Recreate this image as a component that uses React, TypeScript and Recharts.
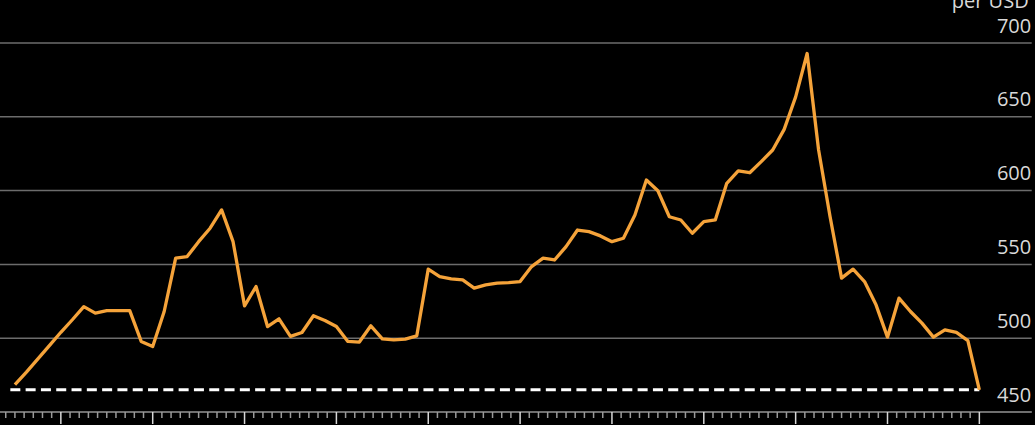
import {
  LineChart,
  Line,
  XAxis,
  YAxis,
  CartesianGrid,
  ReferenceLine
} from "recharts";

// exchange rate per USD, evenly spaced observations
const rateValues = [
  468.5, 477, 486, 495, 504, 512.5, 521.4, 517, 518.7, 518.7,
  518.7, 497.8, 494.4, 518.1, 554.2, 555.3, 565.4, 574.5, 586.9, 565.4,
  521.9, 535, 507.9, 513.1, 501.2, 503.9, 515.2, 512, 507.9, 497.8,
  497.4, 508.4, 499.6, 498.9, 499.4, 501.6, 546.8, 541.7, 540.2, 539.5,
  533.9, 536.1, 537.3, 537.7, 538.4, 548.5, 554.2, 553, 562, 573.3,
  572.2, 569.3, 565.4, 567.7, 583.5, 607.2, 599.9, 582.3, 580.1, 571.1,
  579, 580.1, 604.9, 613.3, 612.1, 619.6, 627.5, 641.5, 663.5, 692.9,
  627.5, 582.3, 540.7, 546.8, 538.4, 522.6, 500.7, 527.1, 518.1, 510.2,
  500.7, 505.7, 503.9, 498.4, 465
];

const yTicks = [450, 500, 550, 600, 650, 700];
const unitLabel = "per USD";
const currentLevel = 465;

// major ticks every 8 observations, 10 minor steps between them
const majorTicks = [4, 12, 20, 28, 36, 44, 52, 60, 68, 76, 84];
const minorStep = 0.8;

const data = rateValues.map((v, i) => ({ i, v }));

const axisTicks: number[] = [];
for (let m = -6; m <= 100; m++) {
  axisTicks.push(Math.round((4 + m * minorStep) * 1000) / 1000);
}

const FONT = "'Open Sans', sans-serif";

const XTick = (props: any) => {
  const { x, y, payload } = props;
  const major = majorTicks.includes(payload.value);
  return (
    <line
      x1={x}
      x2={x}
      y1={y}
      y2={y + (major ? 12 : 6)}
      stroke={major ? "#d8d8d8" : "#9a9a9a"}
      strokeWidth={1.5}
    />
  );
};

const YTick = (props: any) => {
  const { y, payload, viewBox } = props;
  const right = viewBox ? viewBox.x + viewBox.width : 1031.7;
  return (
    <g>
      <text
        x={right - 0.5}
        y={y - 10.5}
        textAnchor="end"
        fill="#d9d9d9"
        fontSize={20}
        fontFamily={FONT}
      >
        {payload.value}
      </text>
      {payload.value === 700 && (
        <text
          x={right - 3}
          y={y - 35.5}
          textAnchor="end"
          fill="#d9d9d9"
          fontSize={20}
          fontFamily={FONT}
        >
          {unitLabel}
        </text>
      )}
    </g>
  );
};

export default function App() {
  return (
    <div
      style={{
        position: "absolute",
        left: 0,
        top: 0,
        width: 1035,
        height: 425,
        background: "#000",
        overflow: "hidden"
      }}
    >
      <LineChart
        width={1035}
        height={425}
        data={data}
        margin={{ top: 43, right: 3.3, bottom: 0, left: 0 }}
      >
        <CartesianGrid
          vertical={false}
          stroke="#6c6c6c"
          strokeWidth={1.5}
        />
        <XAxis
          dataKey="i"
          type="number"
          domain={[-1.3, 88.56]}
          allowDataOverflow
          ticks={axisTicks}
          interval={0}
          height={13}
          tickSize={0}
          tickMargin={0}
          tickLine={false}
          axisLine={{ stroke: "#7a7a7a", strokeWidth: 1.5 }}
          tick={<XTick />}
        />
        <YAxis
          orientation="right"
          mirror
          domain={[450, 700]}
          ticks={yTicks}
          interval={0}
          width={60}
          tickSize={0}
          tickMargin={0}
          axisLine={false}
          tickLine={false}
          tick={<YTick />}
        />
        <ReferenceLine
          segment={[
            { x: -0.4, y: currentLevel },
            { x: 84, y: currentLevel }
          ]}
          stroke="#ffffff"
          strokeWidth={3}
          strokeDasharray="10 5.3"
        />
        <Line
          type="linear"
          dataKey="v"
          stroke="#f5a33a"
          strokeWidth={3.3}
          strokeLinejoin="round"
          dot={false}
          isAnimationActive={false}
        />
      </LineChart>
    </div>
  );
}
